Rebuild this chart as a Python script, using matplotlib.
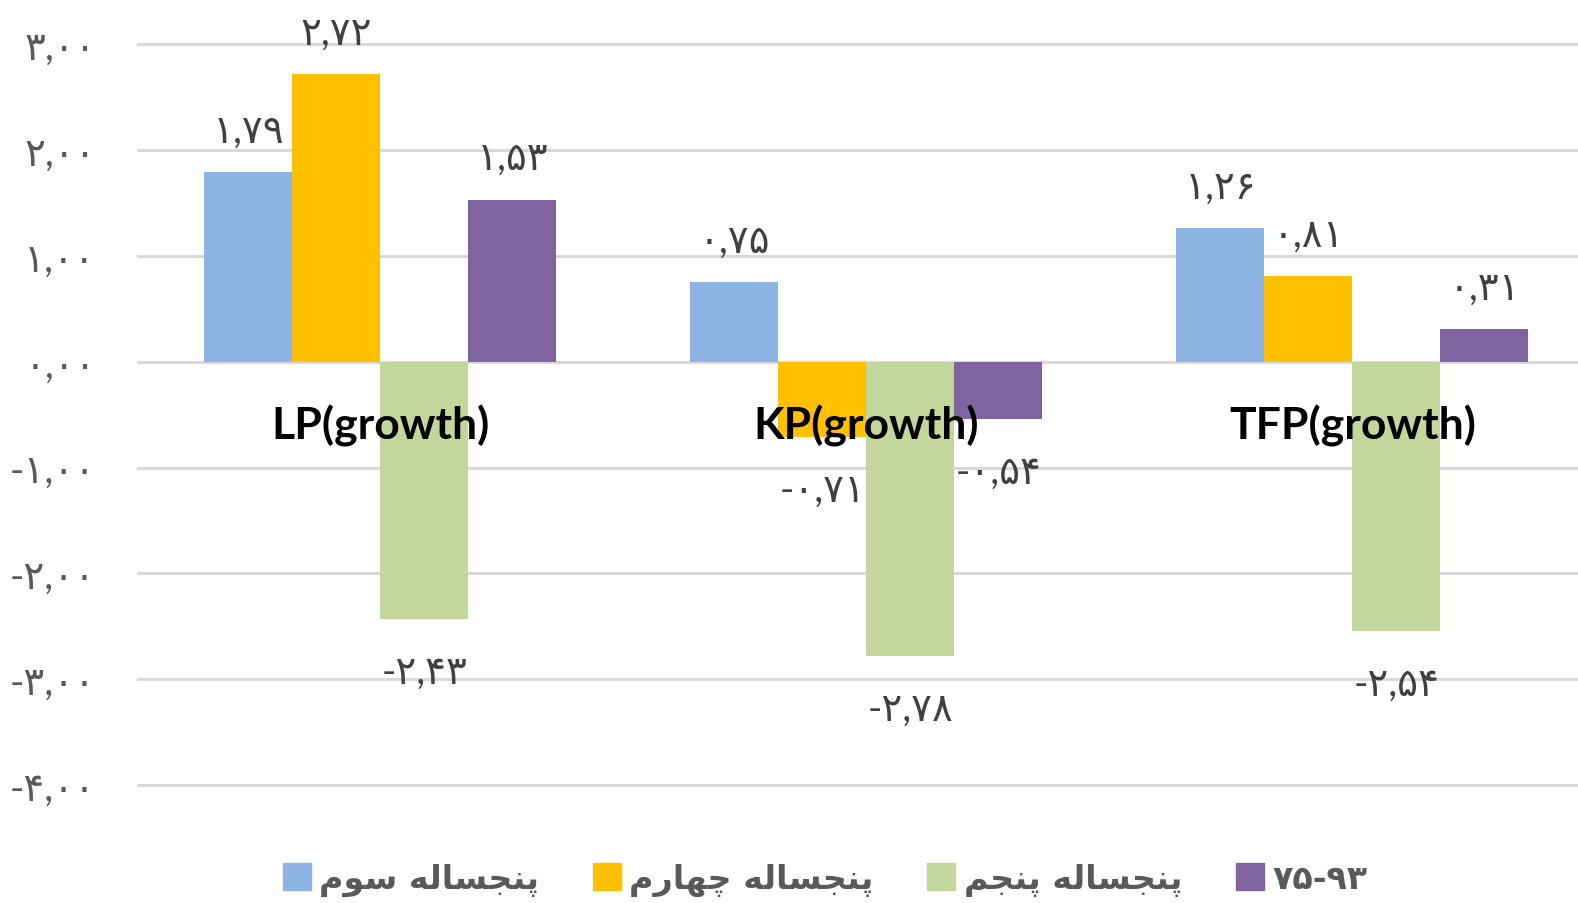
import matplotlib.pyplot as plt
from matplotlib.patches import Patch
from matplotlib.ticker import FuncFormatter, MultipleLocator
import numpy as np

categories = ['LP(growth)', 'KP(growth)', 'TFP(growth)']
series = ['پنجساله سوم', 'پنجساله چهارم', 'پنجساله پنجم', '۷۵-۹۳']
values = [
    [1.79, 0.75, 1.26],
    [2.72, -0.71, 0.81],
    [-2.43, -2.78, -2.54],
    [1.53, -0.54, 0.31],
]
colors = ['#8EB4E3', '#FFC000', '#C3D69B', '#8064A2']

# persian shaping (no bidi lib available): iso, fin, ini, med
FORMS = {
    'پ': (0xFB56, 0xFB57, 0xFB58, 0xFB59),
    'چ': (0xFB7A, 0xFB7B, 0xFB7C, 0xFB7D),
    'ن': (0xFEE5, 0xFEE6, 0xFEE7, 0xFEE8),
    'ج': (0xFE9D, 0xFE9E, 0xFE9F, 0xFEA0),
    'س': (0xFEB1, 0xFEB2, 0xFEB3, 0xFEB4),
    'ل': (0xFEDD, 0xFEDE, 0xFEDF, 0xFEE0),
    'ه': (0xFEE9, 0xFEEA, 0xFEEB, 0xFEEC),
    'م': (0xFEE1, 0xFEE2, 0xFEE3, 0xFEE4),
    'ا': (0xFE8D, 0xFE8E, None, None),
    'ر': (0xFEAD, 0xFEAE, None, None),
    'و': (0xFEED, 0xFEEE, None, None),
}


def shape(s):
    if not any(c in FORMS for c in s):
        return s
    out = []
    for i, c in enumerate(s):
        if c not in FORMS:
            out.append(c)
            continue
        prev = s[i - 1] if i > 0 else ''
        nxt = s[i + 1] if i + 1 < len(s) else ''
        jp = prev in FORMS and FORMS[prev][2] is not None
        jn = nxt in FORMS and FORMS[c][2] is not None
        f = FORMS[c]
        code = f[3] if (jp and jn) else f[1] if jp else f[2] if jn else f[0]
        out.append(chr(code))
    return ''.join(reversed(out))


def fa(v):
    return f'{v:.2f}'.translate(str.maketrans('0123456789.', '۰۱۲۳۴۵۶۷۸۹,'))


plt.rcParams['font.family'] = ['Lato', 'DejaVu Sans']

W, H = 1578, 904
fig = plt.figure(figsize=(W / 100, H / 100), dpi=100)
ylo, yhi = -4.05, 3.05
y3, ym4 = 45.3, 786.0          # pixel rows of 3,00 and -4,00
ppu = (ym4 - y3) / 7
top_px = y3 - 0.05 * ppu
bot_px = ym4 + 0.05 * ppu
left_px, cat_px = 137.4, 486.0
ax = fig.add_axes([left_px / W, 1 - bot_px / H, 3 * cat_px / W, (bot_px - top_px) / H])

x = np.arange(len(categories))
w = 0.7246 / 4
for i, (name, vals) in enumerate(zip(series, values)):
    xs = x + (i - 1.5) * w
    ax.bar(xs, vals, width=w, color=colors[i], zorder=2)
    for xi, v in zip(xs, vals):
        ax.annotate(fa(v), (xi, v), xytext=(0, 30 if v > 0 else -38),
                    textcoords='offset points', ha='center', va='center',
                    fontsize=28, color='#404040')

for xi, c in zip(x, categories):
    ax.text(xi, -0.6, c, ha='center', va='center', fontsize=32,
            fontweight='bold', color='black', zorder=4)

ax.set_xlim(-0.5, 2.5)
ax.set_ylim(ylo, yhi)
ax.yaxis.set_major_locator(MultipleLocator(1))
ax.yaxis.set_major_formatter(FuncFormatter(lambda v, p: fa(v)))
ax.grid(axis='y', color='#D9D9D9', lw=2.2, zorder=0)
ax.set_xticks([])
ax.tick_params(axis='y', length=0, pad=30, labelsize=28, labelcolor='#595959')
for sp in ax.spines.values():
    sp.set_visible(False)

handles = [Patch(color=c) for c in colors]
fig.legend(handles, [shape(s) for s in series], loc='center',
           bbox_to_anchor=(825 / W, 1 - 880 / H), ncol=4, frameon=False,
           handlelength=0.85, handleheight=0.85, handletextpad=0.25,
           columnspacing=1.6,
           prop={'size': 24, 'weight': 'bold', 'family': ['DejaVu Sans']},
           labelcolor='#595959')

fig.savefig('out.png', dpi=100)
